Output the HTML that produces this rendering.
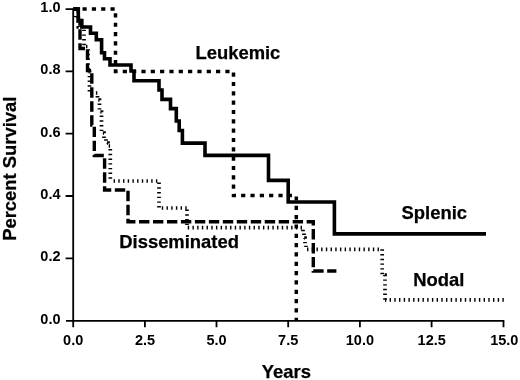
<!DOCTYPE html>
<html><head><meta charset="utf-8"><style>
html,body{margin:0;padding:0;background:#fff;width:520px;height:380px;overflow:hidden}
svg{display:block;filter:blur(0.35px)}
text{font-family:"Liberation Sans",sans-serif;font-weight:bold;fill:#000;stroke:#000;stroke-width:0.25px}
.t{font-size:14.5px}
.t text{stroke:none}
.l{font-size:18.4px}
</style></head><body>
<svg width="520" height="380" viewBox="0 0 520 380">
<rect width="520" height="380" fill="#fff"/>
<!-- axes -->
<g stroke="#000" stroke-width="1.8" fill="none">
<path d="M73.2,8.5 V327.2"/>
<path d="M66,320.8 H504.3"/>
<path d="M65.6,9.1 H73 M65.6,71.4 H73 M65.6,133.7 H73 M65.6,196 H73 M65.6,258.4 H73"/>
<path d="M144.9,320.8 V327.3 M216.5,320.8 V327.3 M288.2,320.8 V327.3 M359.9,320.8 V327.3 M431.6,320.8 V327.3 M503.5,320.8 V327.3"/>
</g>
<!-- y tick labels -->
<g class="t" text-anchor="end">
<text x="60.5" y="12">1.0</text>
<text x="60.5" y="74.3">0.8</text>
<text x="60.5" y="136.6">0.6</text>
<text x="60.5" y="199">0.4</text>
<text x="60.5" y="261.3">0.2</text>
<text x="60.5" y="323.7">0.0</text>
</g>
<!-- x tick labels -->
<g class="t" text-anchor="middle">
<text x="73.2" y="344.6">0.0</text>
<text x="145" y="344.6">2.5</text>
<text x="216.6" y="344.6">5.0</text>
<text x="288.2" y="344.6">7.5</text>
<text x="359.9" y="344.6">10.0</text>
<text x="431.7" y="344.6">12.5</text>
<text x="504.3" y="344.6">15.0</text>
</g>
<!-- titles -->
<text class="l" x="261.8" y="378.2">Years</text>
<text class="l" transform="translate(16.4,240.8) rotate(-90)">Percent Survival</text>
<text class="l" x="195.5" y="59.1">Leukemic</text>
<text class="l" x="119.3" y="248.4">Disseminated</text>
<text class="l" x="401.6" y="219.4">Splenic</text>
<text class="l" x="413.3" y="285.9">Nodal</text>
<!-- curves -->
<g fill="none" stroke="#000" stroke-linejoin="miter" stroke-linecap="butt">
<!-- Nodal: fine dotted -->
<g stroke-width="3.7" stroke-dasharray="1.4 3.3">
<path d="M78.3,16.6 V27 H84 V46.5 H88 V72 H89.5 V93 H97.5 V100 H99.5 V112 H101.5 V133 H104 V139 H106 V143 H108 V146 H110.3 V181"/>
<path stroke-dashoffset="1.4" d="M110.3,181 H159 V208 H187"/>
<path stroke-dashoffset="3.15" d="M187,208 V227.6 H303 V232 H304 V238 H305 V244 H306 V249.3 H382.2 V275 H385 V299.8"/>
<path stroke-dashoffset="0.1" d="M385,299.8 H504.5"/>
</g>
<path stroke-width="1.3" d="M73,16.6 H78"/>
<!-- Disseminated: dashed -->
<path stroke-width="3.4" stroke-dasharray="10.4 3.57" stroke-dashoffset="1.2" d="M73.5,9 H78.3 V20.5 H80 V48.5 H87.5 V70.5 H91.8 V125 H94.3 V155.5 H104.6 V190 H128 V221.7 H313.3 V271 H336.4"/>
<!-- Leukemic: square dots -->
<path stroke-width="3.5" stroke-dasharray="4.2 5.13" stroke-dashoffset="0.33" d="M73.5,9 H115.5 V71.4 H233.5 V195.6 H296.3 V321"/>
<!-- Splenic: solid -->
<path stroke-width="3.6" d="M73,9 H78.3 V20.5 H81.8 V27 H90.5 V33.3 H96.3 V39.8 H101.6 V52.8 H104.5 V58.8 H110 V65 H131 V71 H134 V80.8 H159 V90 H162 V99.4 H170.5 V108.6 H176.3 V121 H179.2 V130.5 H182.4 V143.1 H205 V155.4 H268.5 V180.4 H288.2 V202 H334.4 V233.9 H486"/>
</g>
</svg>
</body></html>
